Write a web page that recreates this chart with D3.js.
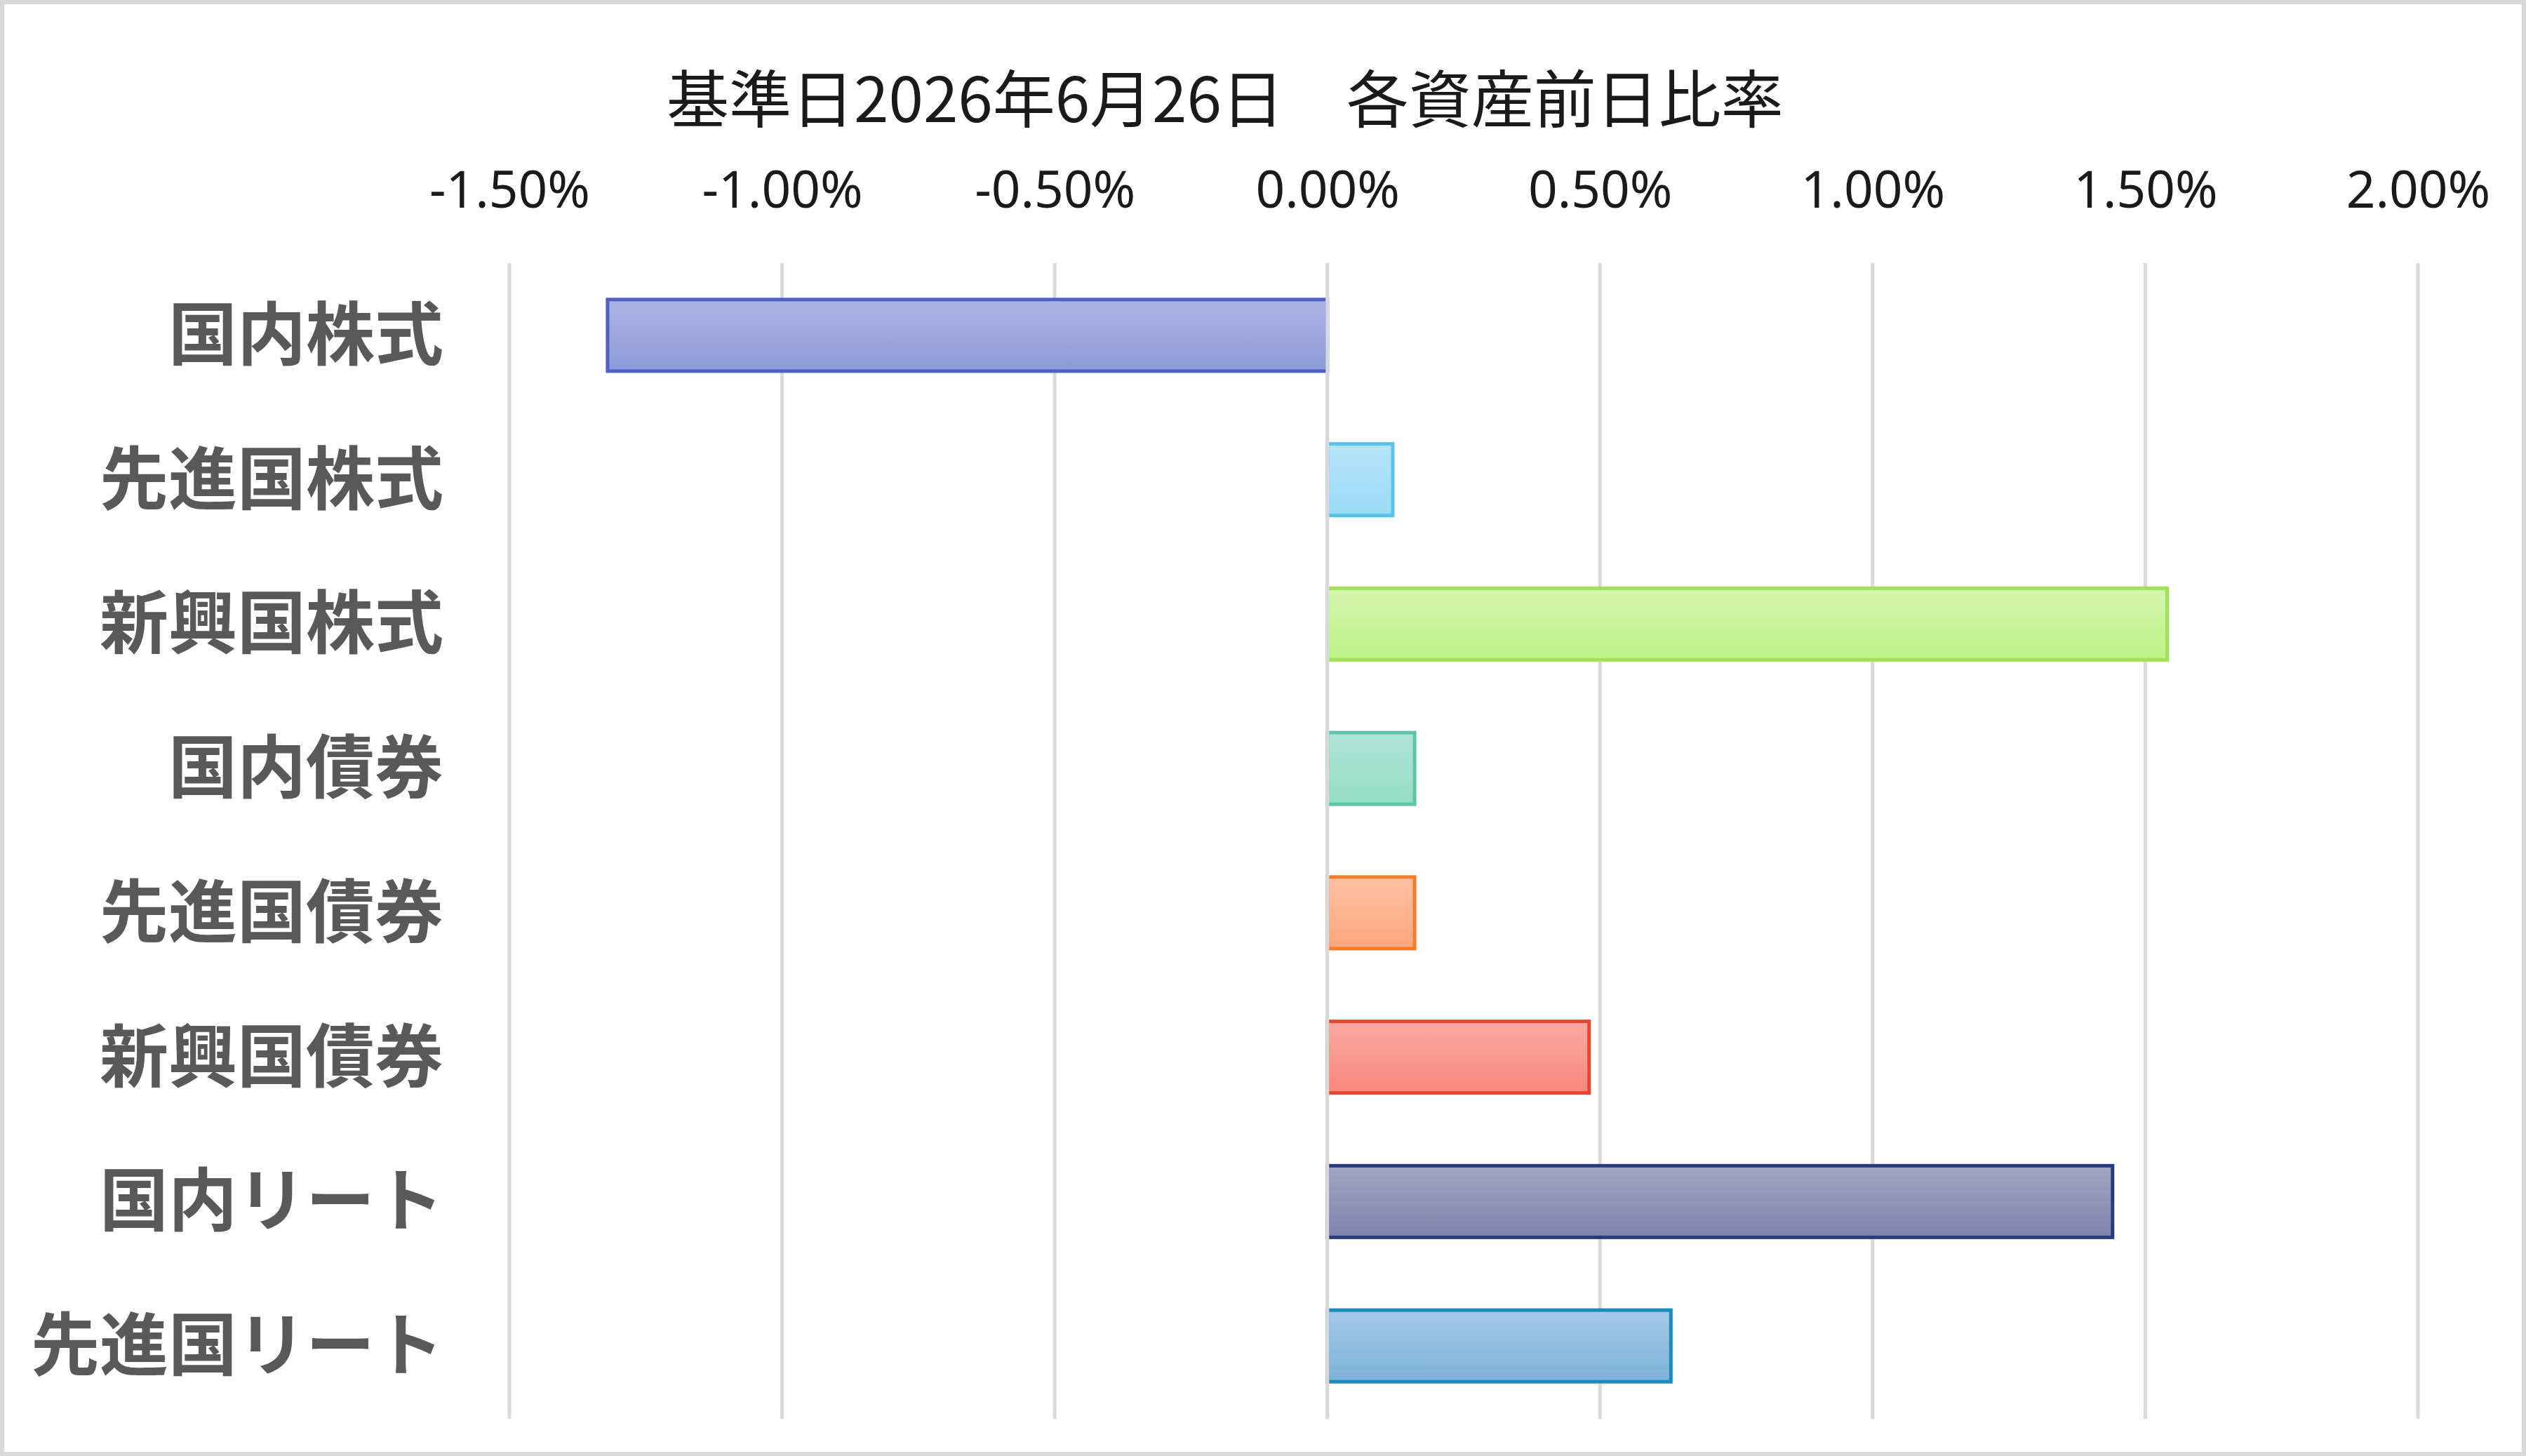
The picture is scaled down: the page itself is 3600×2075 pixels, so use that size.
<!DOCTYPE html>
<html>
<head>
<meta charset="utf-8">
<script src="https://cdn.jsdelivr.net/npm/d3@7"></script>
<style>
  html, body { margin: 0; padding: 0; background: #fff; }
  svg { display: block; }
</style>
</head>
<body>
<svg id="chart" width="3600" height="2075"></svg>
<script>
// ---- data ----
const titleText = "基準日2026年6月26日　各資産前日比率";
const categories = ["国内株式", "先進国株式", "新興国株式", "国内債券", "先進国債券", "新興国債券", "国内リート", "先進国リート"];
const values = [-1.32, 0.12, 1.54, 0.16, 0.16, 0.48, 1.44, 0.63]; // percent
const tickValues = [-1.5, -1.0, -0.5, 0.0, 0.5, 1.0, 1.5, 2.0];
const tickLabels = ["-1.50%", "-1.00%", "-0.50%", "0.00%", "0.50%", "1.00%", "1.50%", "2.00%"];
const fillTop = ["#acb4e4", "#b6e4f8", "#d4f5ae", "#b0e4d6", "#fdc2a4", "#f9aaa2", "#a3a6c3", "#a3c9e7"];
const fillBottom = ["#8d9ad9", "#9bdbf6", "#bdf287", "#95dec5", "#fca67c", "#f9867c", "#7e84ac", "#7eb2da"];
const strokeColors = ["#4f60c0", "#5bc2ec", "#a2e055", "#5dc6a6", "#f47c2c", "#e8462f", "#2b3a7d", "#1a8bbd"];

// ---- layout ----
const W = 3600, H = 2075;
const svg = d3.select("#chart");

svg.append("rect")
  .attr("x", 3).attr("y", 3).attr("width", W - 6).attr("height", H - 6)
  .attr("fill", "#fff").attr("stroke", "#d9d9d9").attr("stroke-width", 6);

const x = d3.scaleLinear().domain([-1.5, 2.0]).range([726, 3446]);
const y = d3.scaleBand().domain(categories).range([375, 2021]).paddingInner(0.504).paddingOuter(0.252);

const defs = svg.append("defs");
categories.forEach((c, i) => {
  const g = defs.append("linearGradient")
    .attr("id", "grad" + i).attr("x1", 0).attr("y1", 0).attr("x2", 0).attr("y2", 1);
  g.append("stop").attr("offset", "0%").attr("stop-color", fillTop[i]);
  g.append("stop").attr("offset", "100%").attr("stop-color", fillBottom[i]);
});

// title
svg.append("text")
  .attr("x", 1746).attr("y", 135)
  .attr("text-anchor", "middle").attr("dominant-baseline", "central")
  .attr("font-family", "'Noto Sans CJK JP', 'Noto Sans', sans-serif")
  .attr("font-size", 89).attr("fill", "#1a1a1a")
  .text(titleText);

// gridlines
svg.append("g").selectAll("line").data(tickValues).join("line")
  .attr("x1", d => x(d)).attr("x2", d => x(d))
  .attr("y1", 375).attr("y2", 2022)
  .attr("stroke", "#d9d9d9").attr("stroke-width", 5);

// top axis labels
const axis = d3.axisTop(x).tickValues(tickValues)
  .tickFormat((d, i) => tickLabels[i]).tickSize(0).tickPadding(0);
const ag = svg.append("g").attr("transform", "translate(0,296)").call(axis);
ag.select(".domain").remove();
ag.selectAll("text")
  .attr("font-family", "'Noto Sans', 'Open Sans', sans-serif")
  .attr("font-size", 73).attr("fill", "#1a1a1a");

// bars
const bw = y.bandwidth();
svg.append("g").selectAll("rect").data(values).join("rect")
  .attr("x", d => Math.min(x(0), x(d)))
  .attr("width", d => Math.abs(x(d) - x(0)))
  .attr("y", (d, i) => y(categories[i]))
  .attr("height", bw)
  .attr("fill", (d, i) => `url(#grad${i})`)
  .attr("stroke", (d, i) => strokeColors[i])
  .attr("stroke-width", 5);

// zero line over bar edges
svg.append("line")
  .attr("x1", x(0)).attr("x2", x(0))
  .attr("y1", 375).attr("y2", 2022)
  .attr("stroke", "#d9d9d9").attr("stroke-width", 5);

// category labels
svg.append("g").selectAll("text").data(categories).join("text")
  .attr("x", 632)
  .attr("y", d => y(d) + bw / 2 - 9)
  .attr("text-anchor", "end").attr("dominant-baseline", "central")
  .attr("font-family", "'Noto Sans CJK JP', sans-serif")
  .attr("font-weight", 700).attr("font-size", 98)
  .attr("fill", "#595959")
  .text(d => d);
</script>
</body>
</html>
